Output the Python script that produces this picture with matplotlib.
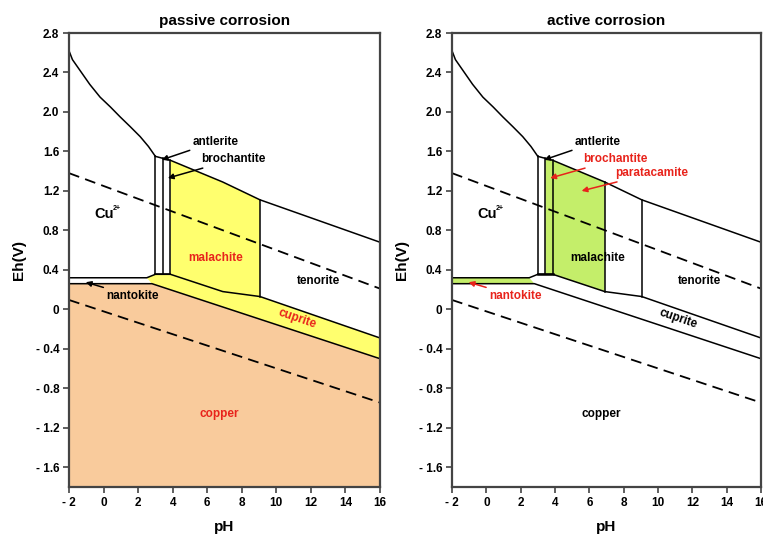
import matplotlib
matplotlib.use("Agg")
import matplotlib.pyplot as plt
import numpy as np
from matplotlib.ticker import FixedLocator, FuncFormatter

plt.rcParams['font.family'] = ['Liberation Sans', 'DejaVu Sans']
plt.rcParams['font.weight'] = 'bold'

# ---------------- data (pH, Eh in V) ----------------
XLIM = (-2, 16)
YLIM = (-1.8, 2.8)
X_TICKS = [-2, 0, 2, 4, 6, 8, 10, 12, 14, 16]
Y_TICKS = [-1.6, -1.2, -0.8, -0.4, 0.0, 0.4, 0.8, 1.2, 1.6, 2.0, 2.4, 2.8]

# upper boundary curve (Cu2+ / oxidised species)
CURVE_PH = [-2.0, -1.8, -1.36, -0.8, -0.2, 0.4, 0.96, 1.55, 2.12, 2.6, 3.0]
CURVE_EH = [2.62, 2.53, 2.42, 2.28, 2.15, 2.05, 1.95, 1.85, 1.75, 1.65, 1.55]
# top boundary of sulfate / carbonate / oxide fields
TOP_PH = [3.0, 3.87, 6.9, 9.05, 16.0]
TOP_EH = [1.55, 1.51, 1.29, 1.11, 0.68]
# lower Cu2+ boundary / cuprite top
CUPRITE_TOP_PH = [-2.0, 2.5, 3.0, 3.87, 6.9, 9.05, 16.0]
CUPRITE_TOP_EH = [0.32, 0.32, 0.355, 0.355, 0.18, 0.13, -0.29]
# copper stability top
COPPER_TOP_PH = [-2.0, 2.8, 16.0]
COPPER_TOP_EH = [0.26, 0.26, -0.50]
# vertical boundaries: antlerite / brochantite strips, malachite limits
STRIP_PH = [3.0, 3.44, 3.87]
MALACHITE_RIGHT_PH = 9.05
PARATACAMITE_RIGHT_PH = 6.9
# water stability lines
WATER_UP_PH = [-2.0, 16.0]
WATER_UP_EH = [1.38, 0.21]
WATER_LO_PH = [-2.0, 16.0]
WATER_LO_EH = [0.095, -0.945]

TITLES = ["passive corrosion", "active corrosion"]

YELLOW = "#FFFF6E"
PEACH = "#F9CB9C"
GREEN = "#C4EE6A"
RED = "#E8231B"


def top_at(ph):
    return float(np.interp(ph, TOP_PH, TOP_EH))


def bot_at(ph):
    return float(np.interp(ph, CUPRITE_TOP_PH, CUPRITE_TOP_EH))


def yfmt(v, pos):
    if abs(v) < 1e-9:
        return "0"
    if v < 0:
        return "- %.1f" % (-v)
    return "%.1f" % v


def xfmt(v, pos):
    if abs(v) < 1e-9:
        return "0"
    if v < 0:
        return "- %d" % (-v)
    return "%d" % v


fig = plt.figure(figsize=(7.63, 5.34), dpi=100)
W, H = 763.0, 534.0
ax1 = fig.add_axes([69 / W, 1 - 487 / H, 311 / W, 454 / H])
ax2 = fig.add_axes([452 / W, 1 - 487 / H, 309 / W, 454 / H])

for i, ax in enumerate([ax1, ax2]):
    active = (i == 1)
    ax.set_xlim(*XLIM)
    ax.set_ylim(*YLIM)
    ax.xaxis.set_major_locator(FixedLocator(X_TICKS))
    ax.yaxis.set_major_locator(FixedLocator(Y_TICKS))
    ax.xaxis.set_major_formatter(FuncFormatter(xfmt))
    ax.yaxis.set_major_formatter(FuncFormatter(yfmt))
    ax.tick_params(direction='out', length=4, width=1.2, color='#444444',
                   labelsize=8.5, pad=3)
    for lab in ax.get_xticklabels() + ax.get_yticklabels():
        lab.set_fontweight('bold')
    for sp in ax.spines.values():
        sp.set_linewidth(1.6)
        sp.set_color('#444444')
    ax.set_title(TITLES[i], fontsize=11, fontweight='bold', pad=6)
    ax.set_xlabel("pH", fontsize=11, fontweight='bold', labelpad=8)
    ax.set_ylabel("Eh(V)", fontsize=11, fontweight='bold', labelpad=7)

    lw = 1.1
    # ---------------- fills ----------------
    if not active:
        # copper
        cx = COPPER_TOP_PH + [XLIM[1], XLIM[0]]
        cy = COPPER_TOP_EH + [YLIM[0], YLIM[0]]
        ax.fill(cx, cy, color=PEACH, lw=0, zorder=1)
        # cuprite band
        tx = [p for p in CUPRITE_TOP_PH if p >= 2.5]
        ty = [bot_at(p) for p in tx]
        px = tx + [16.0, 2.8]
        py = ty + [COPPER_TOP_EH[-1], COPPER_TOP_EH[1]]
        ax.fill(px, py, color=YELLOW, lw=0, zorder=1)
        # malachite
        mx = [STRIP_PH[2], STRIP_PH[2], 6.9, MALACHITE_RIGHT_PH, MALACHITE_RIGHT_PH, 6.9]
        my = [bot_at(STRIP_PH[2]), top_at(STRIP_PH[2]), top_at(6.9),
              top_at(MALACHITE_RIGHT_PH), bot_at(MALACHITE_RIGHT_PH), bot_at(6.9)]
        ax.fill(mx, my, color=YELLOW, lw=0, zorder=1)
    else:
        # brochantite + paratacamite/malachite green field
        gx = [STRIP_PH[1], STRIP_PH[1], STRIP_PH[2], PARATACAMITE_RIGHT_PH,
              PARATACAMITE_RIGHT_PH, STRIP_PH[2]]
        gy = [bot_at(STRIP_PH[1]), top_at(STRIP_PH[1]), top_at(STRIP_PH[2]),
              top_at(PARATACAMITE_RIGHT_PH), bot_at(PARATACAMITE_RIGHT_PH),
              bot_at(STRIP_PH[2])]
        ax.fill(gx, gy, color=GREEN, lw=0, zorder=1)
        # nantokite band
        nx = [-2.0, 2.5, 2.8, -2.0]
        ny = [0.32, 0.32, 0.26, 0.26]
        ax.fill(nx, ny, color=GREEN, lw=0, zorder=1)

    # ---------------- lines ----------------
    ax.plot(CURVE_PH, CURVE_EH, color='black', lw=lw, zorder=2)
    ax.plot(TOP_PH, TOP_EH, color='black', lw=lw, zorder=2)
    ax.plot(CUPRITE_TOP_PH, CUPRITE_TOP_EH, color='black', lw=lw, zorder=2)
    ax.plot(COPPER_TOP_PH, COPPER_TOP_EH, color='black', lw=lw, zorder=2)
    ax.plot([STRIP_PH[0], STRIP_PH[2]], [bot_at(STRIP_PH[0]), bot_at(STRIP_PH[2])],
            color='black', lw=1.8 if active else lw, zorder=2)
    for p in STRIP_PH:
        ax.plot([p, p], [bot_at(p), top_at(p)], color='black', lw=lw, zorder=2)
    ax.plot([MALACHITE_RIGHT_PH] * 2, [bot_at(MALACHITE_RIGHT_PH), top_at(MALACHITE_RIGHT_PH)],
            color='black', lw=lw, zorder=2)
    if active:
        ax.plot([PARATACAMITE_RIGHT_PH] * 2,
                [bot_at(PARATACAMITE_RIGHT_PH), top_at(PARATACAMITE_RIGHT_PH)],
                color='black', lw=lw, zorder=2)
    ax.plot(WATER_UP_PH, WATER_UP_EH, color='black', lw=1.3, ls=(0, (6, 3.5)), zorder=2)
    ax.plot(WATER_LO_PH, WATER_LO_EH, color='black', lw=1.3, ls=(0, (6, 3.5)), zorder=2)

    # ---------------- labels ----------------
    fs = 8.5
    red_or_black = RED if not active else 'black'
    ax.text(-0.55, 0.97, "Cu", fontsize=10.5, fontweight='bold', ha='left',
            va='center', zorder=3)
    ax.annotate("2+", xy=(-0.55, 0.97), xytext=(13.5, 3.5), textcoords='offset points',
                fontsize=5, fontweight='bold', ha='left', va='center', zorder=3)
    ax.text(6.5, 0.52, "malachite", fontsize=fs, fontweight='bold', ha='center',
            va='center', color=red_or_black, zorder=3)
    ax.text(12.43, 0.285, "tenorite", fontsize=fs, fontweight='bold', ha='center',
            va='center', color='black', zorder=3)
    ax.text(11.2, -0.10, "cuprite", fontsize=fs, fontweight='bold', ha='center',
            va='center', rotation=-19, color=red_or_black, zorder=3)
    ax.text(6.7, -1.065, "copper", fontsize=fs, fontweight='bold', ha='center',
            va='center', color=red_or_black, zorder=3)

    arrow_kw = dict(arrowstyle='-|>', lw=1.1, mutation_scale=8, shrinkA=0, shrinkB=0)
    # antlerite (black in both)
    ax.annotate("antlerite", xy=(3.37, 1.515), xytext=(5.15, 1.70),
                fontsize=fs, fontweight='bold', ha='left', va='center', zorder=3,
                arrowprops=dict(color='black', **arrow_kw))
    broch_col = 'black' if not active else RED
    ax.annotate("brochantite", xy=(3.72, 1.33), xytext=(5.66, 1.52),
                fontsize=fs, fontweight='bold', ha='left', va='center',
                color=broch_col, zorder=3,
                arrowprops=dict(color=broch_col, **arrow_kw))
    nant_col = 'black' if not active else RED
    ax.annotate("nantokite", xy=(-1.03, 0.275), xytext=(0.15, 0.135),
                fontsize=fs, fontweight='bold', ha='left', va='center',
                color=nant_col, zorder=3,
                arrowprops=dict(color=nant_col, **arrow_kw))
    if active:
        ax.annotate("paratacamite", xy=(5.55, 1.20), xytext=(7.5, 1.38),
                    fontsize=fs, fontweight='bold', ha='left', va='center',
                    color=RED, zorder=3,
                    arrowprops=dict(color=RED, **arrow_kw))

fig.savefig("out.png", dpi=100)
